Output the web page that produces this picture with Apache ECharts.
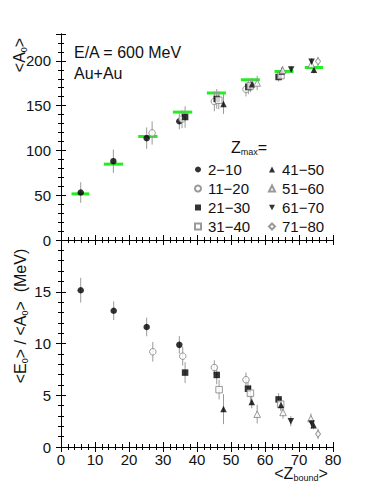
<!DOCTYPE html>
<html><head><meta charset="utf-8">
<script src="https://cdn.jsdelivr.net/npm/echarts@6/dist/echarts.min.js"></script>
<style>html,body{margin:0;padding:0;background:#fff}#c{width:379px;height:491px}</style>
</head><body><div id="c"></div>
<script>
// ---- data ----
const zmaxClasses = ['2\u221210','11\u221220','21\u221230','31\u221240','41\u221250','51\u221260','61\u221270','71\u221280'];
// top panel: [<Zbound>, <A0>, error]
const A0_2_10  = [[5.8,53,11.5],[15.4,88,13],[25.2,113.7,12],[34.8,132.6,9]];
const A0_11_20 = [[26.8,119.5,13],[35.6,135,10],[45.1,154.7,11],[54.4,168.3,8]];
const A0_21_30 = [[36.5,137.3,12],[45.8,157.5,11],[55.1,170.8,8],[64.0,182,5]];
const A0_31_40 = [[46.4,156,10],[55.7,172,7],[64.7,183.6,5]];
const A0_41_50 = [[47.8,151.8,11],[56.2,174,7],[64.9,188,5],[74.4,190,4]];
const A0_51_60 = [[57.7,175.3,8],[65.2,189.5,5],[73.6,196,4]];
const A0_61_70 = [[67.7,190.3,4],[73.7,199,4]];
const A0_71_80 = [[75.6,199.5,5]];
// bottom panel: [<Zbound>, <E0>/<A0>, error]
const E0_2_10  = [[5.8,15.15,1.2],[15.5,13.17,0.9],[25.2,11.6,0.9],[34.8,9.87,0.85]];
const E0_11_20 = [[27.0,9.2,0.95],[35.8,8.77,0.9],[45.1,7.68,0.7],[54.4,6.5,0.7]];
const E0_21_30 = [[36.5,7.19,1.0],[45.8,6.96,0.9],[55.0,5.63,0.8],[64.0,4.6,0.6]];
const E0_31_40 = [[46.5,5.54,0.95],[55.7,5.2,0.8],[64.6,4.14,0.6]];
const E0_41_50 = [[47.8,3.66,1.45],[56.1,4.34,0.6],[64.7,4.05,0.6],[74.3,2.1,0.4]];
const E0_51_60 = [[57.7,3.17,0.9],[65.3,3.34,0.6],[73.5,2.75,0.5]];
const E0_61_70 = [[67.6,2.5,0.5],[73.7,2.27,0.5]];
const E0_71_80 = [[75.6,1.26,0.5]];
// green mean bars (top panel)
const meanZlo = [3.1,12.6,22.7,32.9,42.9,52.9,62.8,71.7];
const meanZhi = [8.3,18.3,28.4,38.6,48.5,58.5,68.4,77.1];
const meanA0  = [51.5,84.7,115.6,142.8,164,179,188.2,192.7];
// axes
const xMin = 0, xMax = 80, xStep = 10;
const yTopMin = 0, yTopMax = 230, yTopStep = 50;
const yBotMin = 0, yBotMax = 20, yBotStep = 5;

// ---- chart ----
const FONT = 'Liberation Sans';
const INK = '#111';
const topSets = [A0_2_10,A0_11_20,A0_21_30,A0_31_40,A0_41_50,A0_51_60,A0_61_70,A0_71_80];
const botSets = [E0_2_10,E0_11_20,E0_21_30,E0_31_40,E0_41_50,E0_51_60,E0_61_70,E0_71_80];
const triDown = 'path://M0,0L10,0L5,9Z';
const styles = [
  {symbol:'circle', filled:true, size:6.5},
  {symbol:'circle', filled:false, size:6.5},
  {symbol:'rect', filled:true, size:6.5},
  {symbol:'rect', filled:false, size:6.5},
  {symbol:'triangle', filled:true, size:6.5},
  {symbol:'triangle', filled:false, size:6.5},
  {symbol:triDown, filled:true, size:6.5},
  {symbol:'diamond', filled:false, size:[5,7]}
];
function itemStyleOf(s){
  return s.filled ? {color:'#000'} : {color:'#fff', borderColor:'#808080', borderWidth:1};
}
function errSeries(sets, xi, yi){
  return {
    type:'custom', xAxisIndex:xi, yAxisIndex:yi, z:3, silent:true,
    data:[].concat(...sets),
    encode:{x:0, y:1},
    renderItem:(params, api)=>{
      const x = api.value(0), y = api.value(1), e = api.value(2);
      const p1 = api.coord([x, y - e]), p2 = api.coord([x, y + e]);
      return {type:'line', shape:{x1:p1[0], y1:p1[1], x2:p2[0], y2:p2[1]},
        style:{stroke:'#9a9a9a', lineWidth:1}};
    }
  };
}
const series = [];
series.push({
  type:'custom', xAxisIndex:0, yAxisIndex:0, z:2, silent:true,
  data: meanA0.map((a,i)=>[meanZlo[i], a, meanZhi[i]]),
  encode:{x:[0,2], y:1},
  renderItem:(params, api)=>{
    const p1 = api.coord([api.value(0), api.value(1)]);
    const p2 = api.coord([api.value(2), api.value(1)]);
    return {type:'rect', shape:{x:p1[0], y:p1[1]-1.5, width:p2[0]-p1[0], height:3},
      style:{fill:'#22ee22'}};
  }
});
series.push(errSeries(topSets, 0, 0));
series.push(errSeries(botSets, 2, 2));
zmaxClasses.forEach((name, i)=>{
  const s = styles[i];
  [[topSets[i],0],[botSets[i],2]].forEach(([d, ax])=>{
    series.push({
      name, type:'scatter', xAxisIndex:ax, yAxisIndex:ax, z:5,
      symbol:s.symbol, symbolSize:s.size,
      itemStyle:itemStyleOf(s),
      data:d.map(p=>[p[0], p[1]])
    });
  });
});

const tick = {inside:true, length:5, lineStyle:{color:'#000', width:1}};
const minor = {show:true, splitNumber:5, length:3, lineStyle:{color:'#000', width:1}};
const line = {show:true, lineStyle:{color:'#000', width:1}};
function xAx(gi, pos, labels){
  return {type:'value', gridIndex:gi, position:pos, min:xMin, max:xMax, interval:xStep,
    axisLine:line, axisTick:tick, minorTick:minor, splitLine:{show:false},
    axisLabel:{show:labels, fontFamily:FONT, fontSize:15, color:INK, margin:5}};
}
function yAx(gi, pos, labels, mn, mx, st){
  return {type:'value', gridIndex:gi, position:pos, min:mn, max:mx, interval:st,
    axisLine:line, axisTick:tick, minorTick:minor, splitLine:{show:false},
    axisLabel:{show:labels, fontFamily:FONT, fontSize:15, color:INK, margin:10,
      showMaxLabel:false}};
}
const subRich = {s:{fontFamily:FONT, fontSize:9, padding:[9,0,0,0], color:INK}};
const legendCommon = {orient:'vertical', top:162, padding:0,
  itemWidth:6, itemHeight:6, itemGap:4, selectedMode:false,
  textStyle:{fontFamily:FONT, fontSize:15, color:INK, lineHeight:14, padding:[0,0,0,2]}};
const option = {
  backgroundColor:'#fff',
  animation:false,
  grid:[
    {left:61, width:272, top:34, height:206},
    {left:61, width:272, top:240, height:207}
  ],
  xAxis:[xAx(0,'bottom',false), xAx(0,'top',false), xAx(1,'bottom',true), xAx(1,'top',false)],
  yAxis:[yAx(0,'left',true,yTopMin,yTopMax,yTopStep), yAx(0,'right',false,yTopMin,yTopMax,yTopStep),
         yAx(1,'left',true,yBotMin,yBotMax,yBotStep), yAx(1,'right',false,yBotMin,yBotMax,yBotStep)],
  legend:[
    Object.assign({data:zmaxClasses.slice(0,4), left:194}, legendCommon),
    Object.assign({data:zmaxClasses.slice(4), left:268}, legendCommon)
  ],
  graphic:[
    {type:'text', x:74, y:52, style:{text:'E/A = 600 MeV', fontFamily:FONT, fontSize:16, fill:INK, align:'left', verticalAlign:'middle'}},
    {type:'text', x:74, y:73, style:{text:'Au+Au', fontFamily:FONT, fontSize:16, fill:INK, align:'left', verticalAlign:'middle'}},
    {type:'text', x:231, y:147, style:{text:'Z{s|max}=', fontFamily:FONT, fontSize:16, fill:INK, align:'left', verticalAlign:'middle', rich:subRich}},
    {type:'text', x:19, y:55, rotation:Math.PI/2, style:{text:'<A{s|0}>', fontFamily:FONT, fontSize:16, fill:INK, align:'center', verticalAlign:'middle', rich:subRich}},
    {type:'text', x:20, y:316, rotation:Math.PI/2, style:{text:'<E{s|0}> / <A{s|0}>  (MeV)', fontFamily:FONT, fontSize:16, fill:INK, align:'center', verticalAlign:'middle', rich:subRich}},
    {type:'text', x:301, y:473, style:{text:'<Z{s|bound}>', fontFamily:FONT, fontSize:16, fill:INK, align:'center', verticalAlign:'middle', rich:subRich}}
  ],
  series
};
const chart = echarts.init(document.getElementById('c'), null, {renderer:'svg'});
chart.setOption(option);
</script></body></html>
